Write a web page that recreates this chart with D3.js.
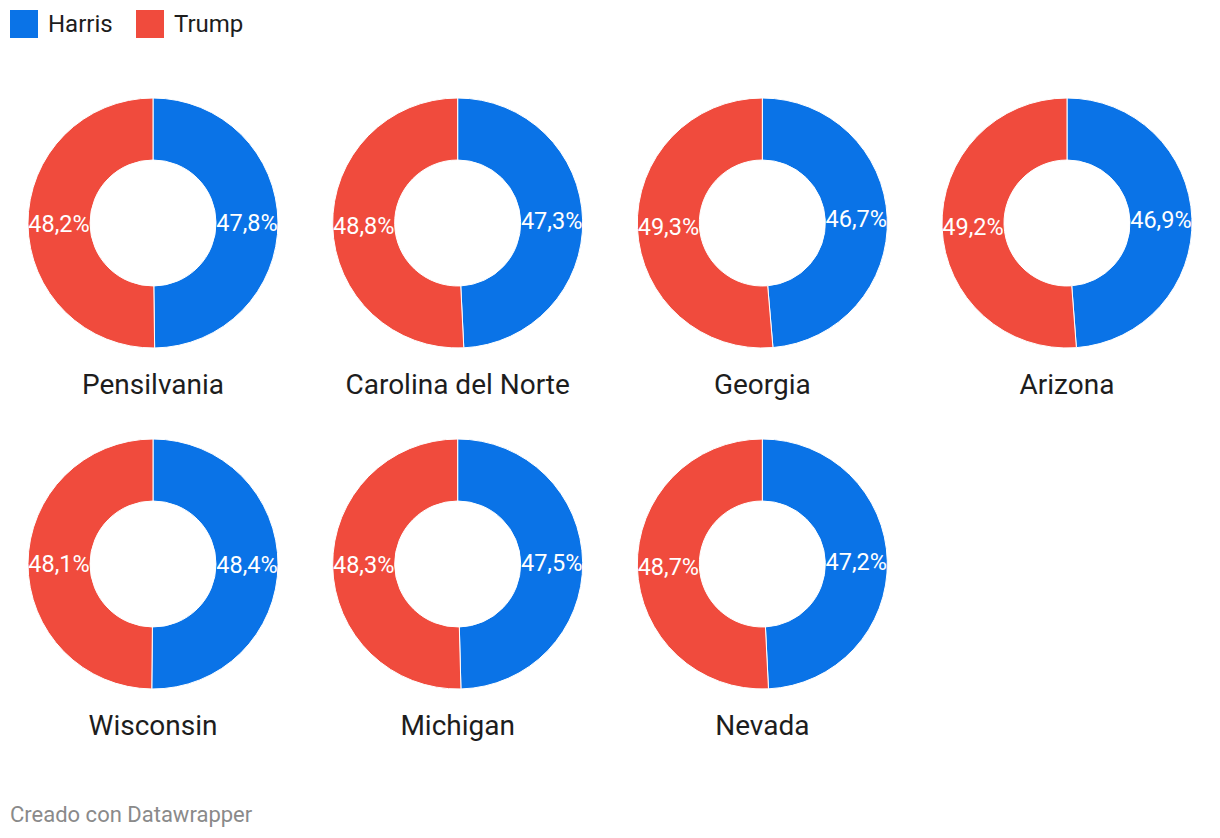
<!DOCTYPE html>
<html>
<head>
<meta charset="utf-8">
<script src="https://cdn.jsdelivr.net/npm/d3@7"></script>
<style>
  body { margin: 0; background: #fff; font-family: Roboto, "Noto Sans", sans-serif; }
</style>
</head>
<body>
<div id="app"></div>
<script>
const width = 1220,
    height = 838;

const states = ["Pensilvania", "Carolina del Norte", "Georgia", "Arizona", "Wisconsin", "Michigan", "Nevada"];
const harris = [47.8, 47.3, 46.7, 46.9, 48.4, 47.5, 47.2];
const trump = [48.2, 48.8, 49.3, 49.2, 48.1, 48.3, 48.7];
const candidates = ["Harris", "Trump"];

const colors = d3.scaleOrdinal().domain(candidates).range(["#0a73e7", "#f04b3d"]);

const cols = 4,
    outerR = 125,
    innerR = 63;

const colX = d3.scalePoint().domain(d3.range(cols)).range([153, 1067]);
const rowY = d3.scalePoint().domain([0, 1]).range([223, 564]);

const svg = d3.select("#app")
    .append("svg")
    .attr("width", width)
    .attr("height", height);

// legend
const legend = svg.append("g").selectAll("g")
    .data(candidates).enter()
    .append("g")
    .attr("transform", (d, i) => `translate(${[10, 136][i]}, 10)`);
legend.append("rect")
    .attr("width", 28)
    .attr("height", 28)
    .attr("fill", d => colors(d));
legend.append("text")
    .attr("x", 38)
    .attr("y", 22)
    .attr("font-size", 24)
    .attr("fill", "#1d1d1d")
    .text(d => d);

const pie = d3.pie().sort(null).value(d => d.value);
const arc = d3.arc().innerRadius(innerR).outerRadius(outerR);
const fmt = v => d3.format(".1f")(v).replace(".", ",") + "%";

const charts = svg.append("g").selectAll("g.donut")
    .data(states.map((s, i) => ({
        state: s,
        slices: [{key: "Harris", value: harris[i]}, {key: "Trump", value: trump[i]}]
    }))).enter()
    .append("g")
    .attr("class", "donut")
    .attr("transform", (d, i) => `translate(${colX(i % cols)}, ${rowY(Math.floor(i / cols))})`);

const slices = charts.selectAll("g.slice")
    .data(d => pie(d.slices)).enter()
    .append("g")
    .attr("class", "slice");

slices.append("path")
    .attr("d", arc)
    .attr("fill", d => colors(d.data.key))
    .attr("stroke", "#fff")
    .attr("stroke-width", 1);

slices.append("text")
    .attr("transform", d => `translate(${arc.centroid(d)})`)
    .attr("text-anchor", "middle")
    .attr("dy", "0.35em")
    .attr("font-size", 23.5)
    .attr("fill", "#fff")
    .text(d => fmt(d.data.value));

charts.append("text")
    .attr("y", 171)
    .attr("text-anchor", "middle")
    .attr("font-size", 28)
    .attr("fill", "#1d1d1d")
    .text(d => d.state);

svg.append("text")
    .attr("x", 10)
    .attr("y", 822)
    .attr("font-size", 22)
    .attr("fill", "#8a8a8a")
    .text("Creado con Datawrapper");
</script>
</body>
</html>
